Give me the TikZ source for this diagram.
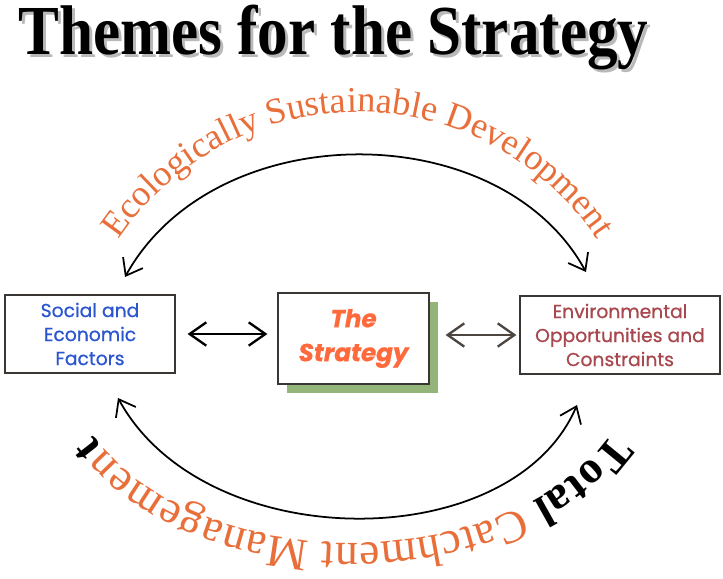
\documentclass[tikz,border=0pt]{standalone}
\usepackage{fontspec}
\setmainfont{Liberation Serif}
\newfontfamily\boxfont[FakeBold=0.7]{Poppins}
\usetikzlibrary{arrows.meta,decorations.text,shadows}
\definecolor{socblue}{HTML}{2C55D0}
\definecolor{stratorange}{HTML}{FF6A3D}
\definecolor{envred}{HTML}{A8484E}
\definecolor{themeorange}{HTML}{E86E3A}
\definecolor{shadegreen}{HTML}{93B57A}
\definecolor{boxgray}{HTML}{3A3634}
\definecolor{linkgray}{HTML}{4D4540}
\newcommand\titletext{\scalebox{0.87}[1]{\fontsize{60}{60}\selectfont\bfseries Themes for the Strategy}}

\begin{document}
\begin{tikzpicture}[
    x=0.03cm, y=0.03cm,
    box/.style={draw=boxgray, line width=1pt, fill=white, align=center, inner sep=0pt,
                font=\boxfont\fontsize{16}{20.5}\selectfont},
    link/.style={line width=2pt, {Straight Barb[length=0.5cm,width=0.7cm]}-{Straight Barb[length=0.5cm,width=0.7cm]}},
    swing/.style={line width=1.5pt, {Straight Barb[length=0.45cm,width=0.68cm]}-{Straight Barb[length=0.45cm,width=0.68cm]}}
]
\useasboundingbox (0,0) rectangle (723,578);

% title with its grey shadow
\node[anchor=base west, inner sep=0pt, text=gray!55] (titleshade) at (21,520) {\titletext};
\node[anchor=base west, inner sep=0pt] (title) at (18,523) {\titletext};

% the three boxes
\node[box, minimum width=5.1cm, minimum height=2.34cm, text=socblue] (soc) at (90,244)
  {Social and\\Economic\\Factors};
\node[box, minimum width=4.53cm, minimum height=2.73cm, text=stratorange,
      font=\boxfont\fontsize{21}{29}\selectfont\bfseries\itshape,
      drop shadow={shadow xshift=0.26cm, shadow yshift=-0.27cm, fill=shadegreen, opacity=1}] (strat) at (353.5,239.5)
  {The\\Strategy};
\node[box, minimum width=6cm, minimum height=2.34cm, text=envred] (env) at (620,243)
  {Environmental\\Opportunities and\\Constraints};

\draw[link] (soc.east) -- (soc.east -| strat.west) [shorten <=0.36cm, shorten >=0.3cm];
\draw[link, linkgray] (env.west -| strat.east) -- (env.west) [shorten <=0.48cm, shorten >=0.09cm];

% swinging arrows
\coordinate (esdL) at (125,301);
\coordinate (esdR) at (586,306);
\coordinate (tcmL) at (118,180);
\coordinate (tcmR) at (577,173);
\draw[swing] (esdL) .. controls (215,463) and (500,463) .. (esdR);
\draw[swing] (tcmL) .. controls (205,21) and (512,21) .. (tcmR);

% curved theme texts
\coordinate (esdC) at (358,178);
\coordinate (tcmC) at (352,221);
\path[decorate, decoration={text along path, text align=center,
      text={|\fontsize{31}{31}\selectfont\color{themeorange}|Ecologically Sustainable Development}}]
  ([shift={(170:288)}]esdC) arc[start angle=170, end angle=10, radius=288];
\path[decorate, decoration={text along path, text align={fit to path},
      text={|\fontsize{39}{39}\selectfont\bfseries\color{black}|Total |\fontsize{39}{39}\selectfont\color{themeorange}|Catchment Managemen|\fontsize{39}{39}\selectfont\bfseries\color{black}|t}}]
  ([shift={(-24:285 and 186)}]tcmC) arc[start angle=-24, end angle=-155, x radius=285, y radius=186];
\end{tikzpicture}
\end{document}
